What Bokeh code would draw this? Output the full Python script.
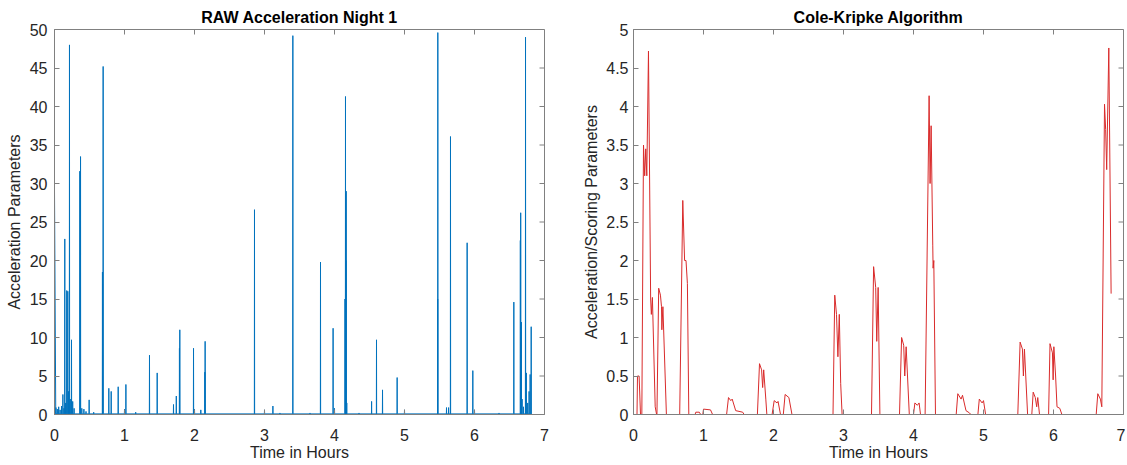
import math
from bokeh.plotting import figure
from bokeh.models import FixedTicker, Range1d
from bokeh.layouts import row
from bokeh.embed import file_html
from bokeh.resources import INLINE

# ---------------- data ----------------
# RAW acceleration: spike times (hours) and spike heights
raw_spike_t = [0.0, 0.02, 0.04, 0.06, 0.08, 0.10, 0.12, 0.135, 0.147, 0.16, 0.175, 0.19, 0.20,
               0.214, 0.225, 0.243, 0.26, 0.28, 0.362, 0.372, 0.39, 0.42, 0.45, 0.495, 0.56,
               0.685, 0.695, 0.776, 0.81, 0.91, 1.0, 1.02, 1.16, 1.357, 1.467, 1.70, 1.74,
               1.785, 1.79, 1.986, 2.0, 2.09, 2.148, 2.152, 2.857, 3.0, 3.12, 3.22, 3.405,
               3.65, 3.80, 3.98, 4.0, 4.15, 4.157, 4.164, 4.167, 4.175, 4.35, 4.53, 4.60,
               4.686, 4.895, 5.0, 5.474, 5.476, 5.6, 5.63, 5.657, 5.895, 5.976, 6.0, 6.35,
               6.562, 6.655, 6.66, 6.67, 6.68, 6.70, 6.729, 6.74, 6.76, 6.78, 6.795, 6.81]
raw_spike_h = [29.0, 0.9, 0.7, 1.0, 0.6, 1.1, 2.6, 0.8, 22.8, 1.5, 16.1, 16.0, 3.0,
               48.0, 2.0, 9.7, 1.7, 0.8, 31.6, 33.5, 0.8, 0.7, 0.4, 1.9, 0.3,
               18.5, 45.2, 3.4, 3.0, 3.6, 0.7, 3.9, 0.3, 7.7, 5.4, 1.3, 2.4,
               8.6, 11.0, 8.6, 0.7, 0.6, 5.5, 9.5, 26.6, 0.6, 1.1, 0.2, 49.2,
               0.2, 19.8, 11.2, 0.8, 15.0, 41.3, 20.0, 29.0, 1.5, 0.2, 1.7, 9.7,
               3.2, 4.8, 0.6, 15.0, 49.6, 0.9, 0.9, 36.1, 22.3, 5.7, 0.6, 0.2,
               14.6, 22.6, 26.2, 12.0, 2.0, 1.0, 49.0, 5.4, 1.5, 3.0, 5.2, 11.4]
raw_baseline = 0.08
raw_end_t = 6.82

# Cole-Kripke scoring series
ck_t = [0, 0.05, 0.057, 0.08, 0.10, 0.119, 0.143, 0.16, 0.175, 0.19, 0.214, 0.245, 0.255, 0.27,
        0.31, 0.33, 0.335, 0.36, 0.385, 0.40, 0.405, 0.42, 0.47, 0.66, 0.704, 0.73, 0.75, 0.77,
        0.79, 0.88, 0.89, 0.94, 0.96, 0.99, 1.0, 1.1, 1.13, 1.33, 1.357, 1.39, 1.41, 1.46, 1.56,
        1.58, 1.77, 1.80, 1.83, 1.845, 1.86, 1.89, 1.905, 1.98, 2.01, 2.05, 2.065, 2.10, 2.14,
        2.166, 2.22, 2.264, 2.85, 2.875, 2.90, 2.92, 2.94, 2.96, 2.98, 3.40, 3.43, 3.46, 3.475,
        3.495, 3.52, 3.80, 3.83, 3.86, 3.875, 3.895, 3.94, 4.0, 4.02, 4.055, 4.08, 4.10, 4.166,
        4.223, 4.237, 4.252, 4.275, 4.28, 4.29, 4.314, 4.61, 4.633, 4.68, 4.70, 4.75, 4.80, 4.82,
        4.92, 4.94, 4.98, 5.0, 5.03, 5.49, 5.523, 5.556, 5.57, 5.585, 5.63, 5.69, 5.71, 5.74,
        5.76, 5.775, 5.80, 5.93, 5.95, 5.985, 5.995, 6.005, 6.03, 6.05, 6.09, 6.12, 6.61, 6.633,
        6.67, 6.69, 6.729, 6.745, 6.76, 6.79, 6.823]
ck_v = [0, 0, 0.5, 0.5, 0, 0, 3.5, 3.1, 3.45, 3.1, 4.72, 1.5, 1.3, 1.52,
        0.1, 0, 0, 1.64, 1.55, 1.4, 1.1, 1.4, 0, 0, 2.78, 2.0, 2.0, 1.7,
        0, 0, 0.03, 0.03, 0, 0, 0.07, 0.06, 0, 0, 0.22, 0.18, 0.2, 0.05, 0.03,
        0, 0, 0.66, 0.58, 0.35, 0.58, 0.2, 0, 0, 0.18, 0.15, 0.17, 0, 0,
        0.26, 0.22, 0, 0, 1.55, 1.3, 0.75, 1.3, 0.4, 0, 0, 1.92, 1.65, 0.95,
        1.65, 0, 0, 1.0, 0.9, 0.5, 0.88, 0, 0, 0.15, 0.12, 0.15, 0, 0,
        4.14, 3.0, 3.75, 2.2, 1.9, 2.0, 0, 0, 0.27, 0.2, 0.25, 0.05, 0.02, 0,
        0, 0.2, 0.15, 0.18, 0, 0, 0.94, 0.85, 0.5, 0.85, 0, 0, 0.29, 0.22,
        0.1, 0.22, 0, 0, 0.92, 0.8, 0.45, 0.88, 0.5, 0.1, 0.08, 0, 0, 0.27,
        0.2, 0.1, 4.03, 3.7, 3.18, 4.76, 1.57]

x_ticks = [0, 1, 2, 3, 4, 5, 6, 7]
x_tick_labels = ["0", "1", "2", "3", "4", "5", "6", "7"]
raw_y_ticks = [0, 5, 10, 15, 20, 25, 30, 35, 40, 45, 50]
raw_y_tick_labels = ["0", "5", "10", "15", "20", "25", "30", "35", "40", "45", "50"]
ck_y_ticks = [0, 0.5, 1, 1.5, 2, 2.5, 3, 3.5, 4, 4.5, 5]
ck_y_tick_labels = ["0", "0.5", "1", "1.5", "2", "2.5", "3", "3.5", "4", "4.5", "5"]

# build the raw line: each spike rises from and returns to the baseline
half_w = 0.002
raw_x, raw_y = [0.0], [raw_spike_h[0]]
for t, h in zip(raw_spike_t[1:], raw_spike_h[1:]):
    raw_x += [t - half_w, t, t + half_w]
    raw_y += [raw_baseline, h, raw_baseline]
raw_x.append(raw_end_t)
raw_y.append(raw_baseline)

# ---------------- styling ----------------
FONT = "Liberation Sans"
TEXT = "#262626"
AXIS = "#808080"
XMAX = 7


def make_fig(title, ylabel, yticks, ylabels, ymax, width, bl, br, ylab_sd, yaxlab_sd,
             color, xs, ys):
    p = figure(width=width, height=463, output_backend="svg", toolbar_location=None,
               x_range=Range1d(0, XMAX), y_range=Range1d(0, ymax),
               min_border_left=bl, min_border_right=br, min_border_top=29,
               min_border_bottom=48)
    p.title.text = title
    p.title.align = "center"
    p.title.text_font = FONT
    p.title.text_font_size = "16px"
    p.title.text_font_style = "bold"
    p.title.text_color = "#000000"
    p.title.standoff = 7
    p.grid.visible = False
    p.outline_line_color = AXIS
    p.background_fill_color = "white"
    p.border_fill_color = "white"

    xax = p.below[0]
    yax = p.left[0]
    xax.ticker = FixedTicker(ticks=x_ticks)
    xax.major_label_overrides = {v: s for v, s in zip(x_ticks, x_tick_labels)}
    yax.ticker = FixedTicker(ticks=yticks)
    yax.major_label_overrides = {v: s for v, s in zip(yticks, ylabels)}
    for ax in [xax, yax]:
        ax.major_tick_in = 5
        ax.major_tick_out = 0
        ax.minor_tick_line_color = None
        ax.axis_line_color = AXIS
        ax.major_tick_line_color = AXIS
        ax.major_label_text_font = FONT
        ax.major_label_text_font_size = "16px"
        ax.major_label_text_color = TEXT
        ax.axis_label_text_font = FONT
        ax.axis_label_text_font_size = "16px"
        ax.axis_label_text_color = TEXT
        ax.axis_label_text_font_style = "normal"
    xax.axis_label = "Time in Hours"
    xax.major_label_standoff = 14
    xax.axis_label_standoff = 0
    yax.axis_label = ylabel
    yax.major_label_standoff = ylab_sd
    yax.axis_label_standoff = yaxlab_sd

    # mirrored inward ticks on the top and right edges of the box
    p.ray(x=x_ticks, y=[ymax] * len(x_ticks), length=5, length_units="screen",
          angle=-math.pi / 2, line_color=AXIS, line_width=1)
    p.ray(x=[XMAX] * len(yticks), y=yticks, length=5, length_units="screen",
          angle=math.pi, line_color=AXIS, line_width=1)

    p.line(xs, ys, line_color=color, line_width=1)
    return p


p1 = make_fig("RAW Acceleration Night 1", "Acceleration Parameters", raw_y_ticks,
              raw_y_tick_labels, 50, 575, 54, 31, 7, 4, "#0072BD", raw_x, raw_y)
p2 = make_fig("Cole-Kripke Algorithm", "Acceleration/Scoring Parameters", ck_y_ticks,
              ck_y_tick_labels, 5, 550, 58, 2, 5, 3, "#d92b2b", ck_t, ck_v)

layout = row(p1, p2)
open("out.html", "w").write(file_html(layout, INLINE))
